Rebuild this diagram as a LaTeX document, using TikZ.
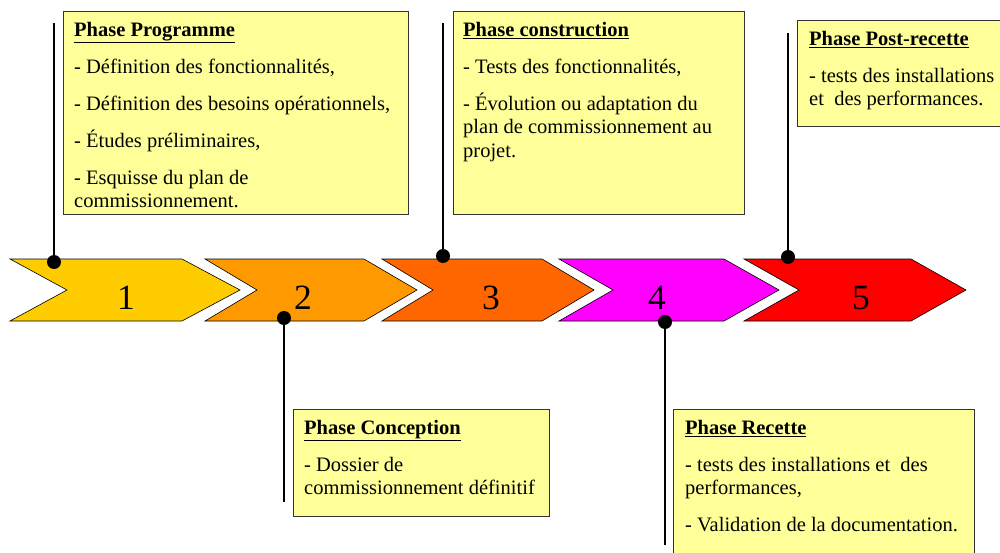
\documentclass[tikz,border=0pt]{standalone}
\usepackage{fontspec}
\setmainfont{Liberation Serif}
\definecolor{cA}{HTML}{FFCC00}
\definecolor{cB}{HTML}{FF9900}
\definecolor{cC}{HTML}{FF6600}
\definecolor{cD}{HTML}{FF00FF}
\definecolor{cE}{HTML}{FF0000}
\definecolor{boxfill}{HTML}{FFFF99}
\tikzset{
  chev/.style={draw=black, line width=0.6pt, line join=miter},
  num/.style={font=\fontsize{35.5}{40}\selectfont, inner sep=0pt, anchor=base},
  phasebox/.style={draw=black!80, line width=1.4pt, fill=boxfill, anchor=north west, inner sep=0pt},
  phasetext/.style={anchor=north west, inner sep=0pt, align=left, font=\fontsize{20.5}{23.5}\selectfont},
  dot/.style={circle, fill=black, inner sep=0pt, minimum size=14pt},
  pin/.style={draw=black, line width=1.3pt},
}
\newcommand{\ttl}[1]{\underline{\textbf{#1}}}
\begin{document}
\begin{tikzpicture}[x={(1pt,0)}, y={(0,-1pt)}]
\useasboundingbox (0,0) rectangle (1000,553);
\clip (0,0) rectangle (1000,553);
% chevrons
\fill[white] (0,0) rectangle (1000,553);
\draw[chev, fill=cA] (10,259) -- (182,259) -- (240,290) -- (182,321) -- (10,321) -- (67,290) -- cycle;
\draw[chev, fill=cB] (205,259) -- (364,259) -- (417,290) -- (364,321) -- (205,321) -- (257,290) -- cycle;
\draw[chev, fill=cC] (382,259) -- (542,259) -- (594,290) -- (542,321) -- (382,321) -- (433,290) -- cycle;
\draw[chev, fill=cD] (559,259) -- (724,259) -- (779,290) -- (724,321) -- (559,321) -- (613,290) -- cycle;
\draw[chev, fill=cE] (744,259) -- (911,259) -- (966,290) -- (911,321) -- (744,321) -- (799,290) -- cycle;
\node[num] (n1) at (126,309) {1};
\node[num] (n2) at (303,309) {2};
\node[num] (n3) at (491,309) {3};
\node[num] (n4) at (657,309) {4};
\node[num] (n5) at (861,309) {5};
% boxes
\node[phasebox, minimum width=345pt, minimum height=203pt] (b1) at (63,11) {};
\node[phasetext] (t1) at (74,22) {\ttl{Phase Programme}\\[13.5pt]
- Définition des fonctionnalités,\\[13.5pt]
- Définition des besoins opérationnels,\\[13.5pt]
- Études préliminaires,\\[13.5pt]
- Esquisse du plan de\\
commissionnement.};
\node[phasebox, minimum width=291pt, minimum height=203pt] (b3) at (453,11) {};
\node[phasetext] (t3) at (463,22) {\ttl{Phase construction}\\[13.5pt]
- Tests des fonctionnalités,\\[13.5pt]
- Évolution ou adaptation du\\
plan de commissionnement au\\
projet.};
\node[phasebox, minimum width=220pt, minimum height=106pt] (b5) at (797,20) {};
\node[phasetext] (t5) at (809,31) {\ttl{Phase Post-recette}\\[13.5pt]
- tests des installations\\
et\ \ des performances.};
\node[phasebox, minimum width=256pt, minimum height=107pt] (b2) at (293,409) {};
\node[phasetext] (t2) at (304,420) {\ttl{Phase Conception}\\[13.5pt]
- Dossier de\\
commissionnement définitif};
\node[phasebox, minimum width=301pt, minimum height=160pt] (b4) at (673,409) {};
\node[phasetext] (t4) at (685,420) {\ttl{Phase Recette}\\[13.5pt]
- tests des installations et\ \ des\\
performances,\\[13.5pt]
- Validation de la documentation.};
% pins
\node[dot] (d1) at (54,262) {};
\node[dot] (d2) at (284,318) {};
\node[dot] (d3) at (443,256) {};
\node[dot] (d4) at (665,322) {};
\node[dot] (d5) at (788,257) {};
\coordinate (e1) at (54,23);
\coordinate (e2) at (284,502);
\coordinate (e3) at (443,23);
\coordinate (e4) at (665,545);
\coordinate (e5) at (788,33);
\draw[pin] (d1.center) -- (e1);
\draw[pin] (d2.center) -- (e2);
\draw[pin] (d3.center) -- (e3);
\draw[pin] (d4.center) -- (e4);
\draw[pin] (d5.center) -- (e5);
\end{tikzpicture}
\end{document}
